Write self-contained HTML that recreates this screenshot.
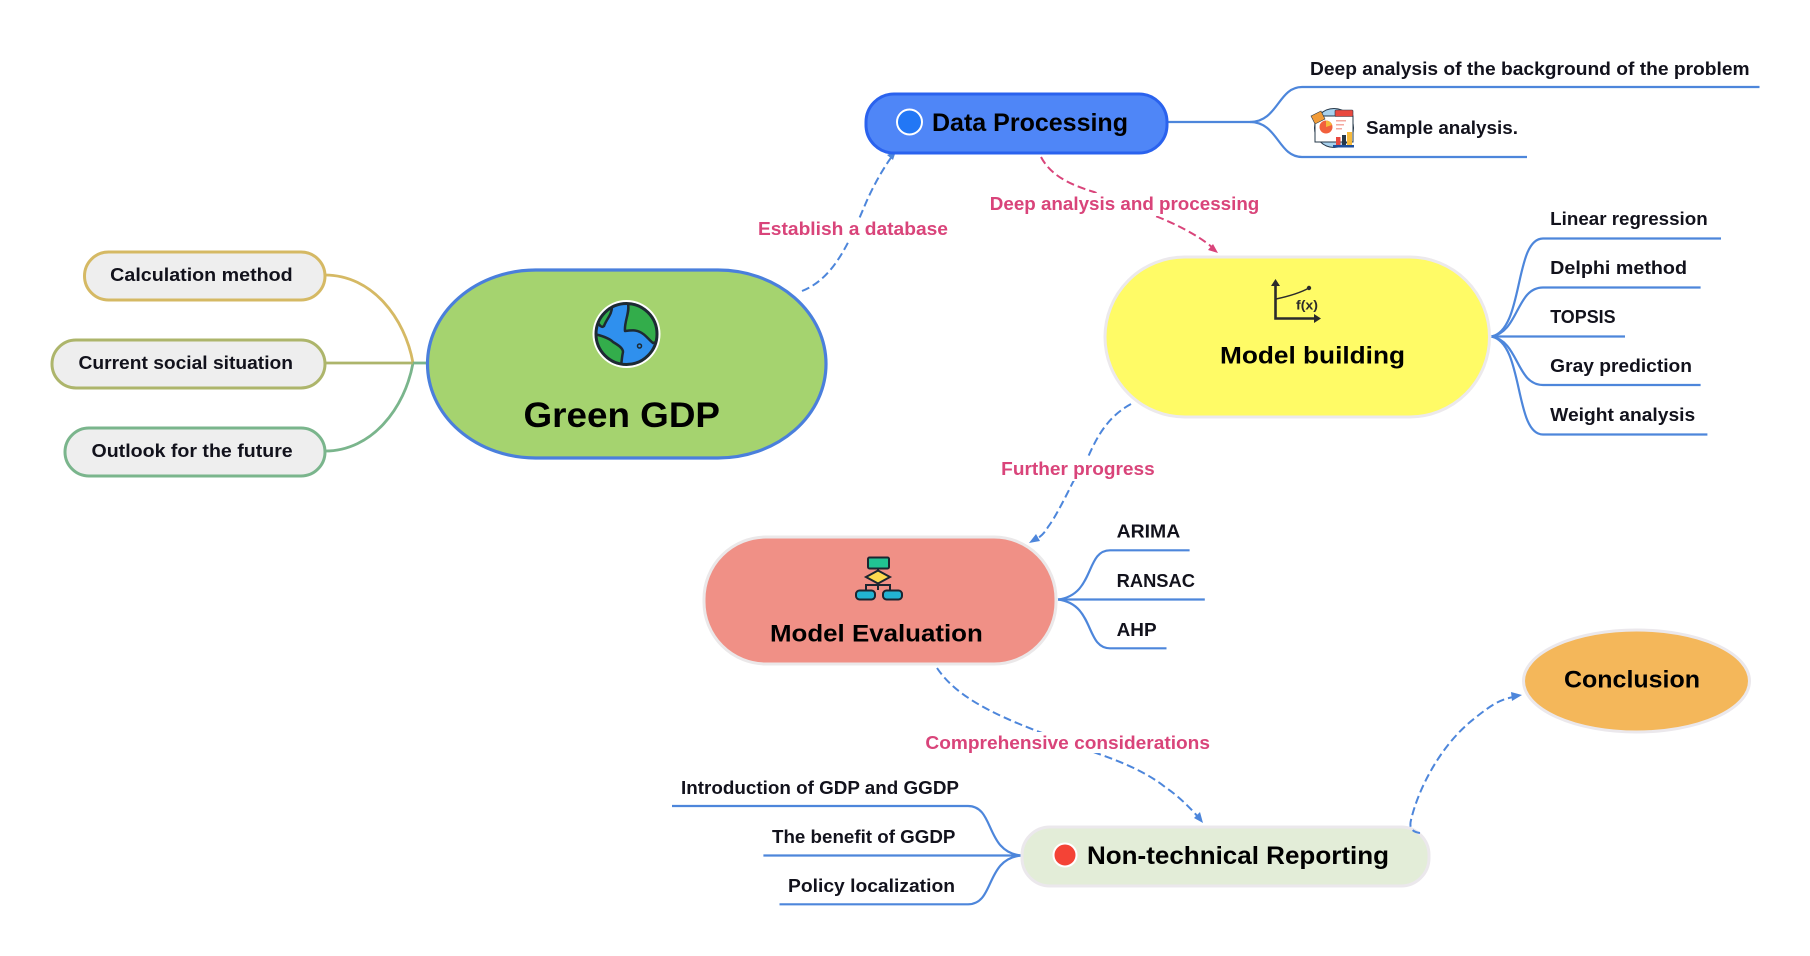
<!DOCTYPE html>
<html><head><meta charset="utf-8"><style>
html,body{margin:0;padding:0;background:#fff;width:1810px;height:956px;overflow:hidden}
svg{display:block}
text{font-family:"Liberation Sans",sans-serif;font-weight:bold;fill:#12121c;font-size:18.5px}
.p{fill:#d9447a}
.k{fill:#000}
.b{fill:none;stroke:#4d86db;stroke-width:2.2}
.d{fill:none;stroke:#4d86db;stroke-width:2;stroke-dasharray:8 4}
</style></head><body>
<svg width="1810" height="956" viewBox="0 0 1810 956" xmlns="http://www.w3.org/2000/svg">
<defs><clipPath id="g"><circle cx="626.5" cy="334" r="30"/></clipPath></defs>
<rect width="1810" height="956" fill="#fff"/>

<!-- left connectors -->
<path d="M325 275 C372 275 405 318 413 363" fill="none" stroke="#d5b964" stroke-width="2.8"/>
<path d="M325 451 C372 451 405 408 413 363" fill="none" stroke="#7ab58c" stroke-width="2.8"/>
<path d="M413 363 H428" fill="none" stroke="#7ab58c" stroke-width="2.8"/>
<path d="M325 363 H413" fill="none" stroke="#adb56b" stroke-width="2.8"/>

<!-- left nodes -->
<rect x="84.5" y="252" width="240.5" height="48" rx="24" fill="#eeeeee" stroke="#d5b964" stroke-width="3"/>
<rect x="52" y="340" width="273" height="48" rx="24" fill="#eeeeee" stroke="#adb56b" stroke-width="3"/>
<rect x="65" y="428" width="260" height="48" rx="24" fill="#eeeeee" stroke="#7ab58c" stroke-width="3"/>
<text x="110.2" y="281.2" textLength="182.5" lengthAdjust="spacingAndGlyphs">Calculation method</text>
<text x="78.5" y="369.2" textLength="214.5" lengthAdjust="spacingAndGlyphs">Current social situation</text>
<text x="91.5" y="457.2" textLength="201.2" lengthAdjust="spacingAndGlyphs">Outlook for the future</text>

<!-- Green GDP -->
<rect x="427.5" y="270" width="398.5" height="188" rx="108" ry="94" fill="#a5d36f" stroke="#4a7fdc" stroke-width="3.2"/>
<circle cx="626.5" cy="334" r="34" fill="#fff"/>
<circle cx="626.5" cy="334" r="30.5" fill="#2f90ee"/>
<g clip-path="url(#g)" stroke="#1d2a33" stroke-width="2.5" fill="#33ad4b" stroke-linejoin="round">
<path d="M628 304 C630 312 624 322 625 331 C632 330 636 330 640 332 C645 334 649 340 653 343 L665 340 L662 304Z"/>
<path d="M594 334 C603 336 610 339 613 342 C618 345 623 348 623 352 C622 356 622 359 621 366 L590 366Z"/>
<path d="M612 306 C612 315 607 318 604 326 C602 328 600 326 598 323 C600 314 605 309 612 306Z"/>
</g>
<circle cx="626.5" cy="334" r="30.5" fill="none" stroke="#1d2a33" stroke-width="3"/>
<circle cx="639.5" cy="346" r="2" fill="none" stroke="#1d2a33" stroke-width="1.5"/>
<text class="k" x="523.5" y="427" style="font-size:35px" textLength="196.5" lengthAdjust="spacingAndGlyphs">Green GDP</text>

<!-- Data Processing branches -->
<path class="b" d="M1168 122 H1250 C1278 122 1278 87 1302 87 H1759.5"/>
<path class="b" d="M1250 122 C1278 122 1278 157 1302 157 H1527"/>

<!-- Dashed edges -->
<path class="d" d="M802 291 C835 278 850 240 865 205 C873 186 884 167 893 155"/>
<polygon points="896,151 893,160 887,155" fill="#4d86db"/>

<path d="M1041 157 C1052 178 1075 186 1094 192 L1158 217 C1185 228 1205 240 1215 250" fill="none" stroke="#d9447a" stroke-width="2" stroke-dasharray="8 4"/>
<polygon points="1218,253 1208,250 1213,244" fill="#d9447a"/>

<path class="d" d="M1131 404 C1105 418 1095 442 1088 457 L1073 482 C1065 498 1055 518 1048 527 C1044 534 1040 537 1035 540"/>
<polygon points="1029,543 1036,534 1040,541" fill="#4d86db"/>

<path class="d" d="M937 668 C955 695 990 713 1037 731 L1099 754 C1130 765 1150 775 1165 787 C1180 797 1192 810 1199 818"/>
<polygon points="1203,823 1194,818 1200,812" fill="#4d86db"/>

<!-- Data Processing node -->
<rect x="866" y="94" width="301" height="59" rx="28" fill="#4f86f7" stroke="#2a62ee" stroke-width="3"/>
<circle cx="909.5" cy="122" r="12.5" fill="#2277f5" stroke="#fff" stroke-width="2"/>
<text class="k" x="932" y="130.8" style="font-size:25px" textLength="196" lengthAdjust="spacingAndGlyphs">Data Processing</text>

<text x="1310" y="75" textLength="439.6" lengthAdjust="spacingAndGlyphs">Deep analysis of the background of the problem</text>
<text x="1366" y="134" textLength="152" lengthAdjust="spacingAndGlyphs">Sample analysis.</text>

<!-- Sample icon -->
<circle cx="1334" cy="128" r="19.5" fill="#a9d2ee" stroke="#26384a" stroke-width="1"/>
<rect x="1315" y="116" width="38" height="26" fill="#fff" stroke="#26384a" stroke-width="1"/>
<circle cx="1326" cy="127" r="6.5" fill="#f2603c"/>
<path d="M1326 127 V120.5 A6.5 6.5 0 0 1 1332 125Z" fill="#f6b93b"/>
<rect x="1336" y="120" width="10" height="1.5" fill="#f4a9a0"/><rect x="1336" y="124" width="8" height="1.5" fill="#f4a9a0"/><rect x="1336" y="128" width="6" height="1.5" fill="#f4a9a0"/>
<rect x="1335" y="110" width="18" height="6.5" rx="1" fill="#e8483f" stroke="#26384a" stroke-width=".6"/>
<polygon points="1311,116 1321,111 1325,119 1315,124" fill="#f19b38" stroke="#26384a" stroke-width=".6"/>
<rect x="1336" y="137" width="4.5" height="8" fill="#e8483f"/><rect x="1347" y="132" width="5" height="13" fill="#f6b93b"/><rect x="1342" y="135" width="4" height="10" fill="#26384a"/>
<rect x="1333" y="145" width="21" height="2.5" fill="#1e4f9c"/>

<!-- Model building -->
<rect x="1105" y="257" width="384.5" height="160" rx="80" fill="#fffb66" stroke="#ece9ec" stroke-width="3"/>
<path d="M1275.5 284 V318.5 H1316" fill="none" stroke="#2b2b2b" stroke-width="2.6"/>
<polygon points="1275.5,279 1280,286 1271,286" fill="#2b2b2b"/>
<polygon points="1321,318.5 1314,314 1314,323" fill="#2b2b2b"/>
<path d="M1276 299 C1290 296 1300 293 1309 288" fill="none" stroke="#2b2b2b" stroke-width="1.5"/>
<circle cx="1309" cy="288" r="2.2" fill="#2b2b2b"/>
<text x="1296" y="309.5" style="font-size:13px;fill:#2b2b2b" textLength="22" lengthAdjust="spacingAndGlyphs">f(x)</text>
<text class="k" x="1220" y="363.5" style="font-size:24px" textLength="185" lengthAdjust="spacingAndGlyphs">Model building</text>

<path class="b" d="M1491.5 336.5 C1524 330 1514 238.5 1543 238.5 H1721"/>
<path class="b" d="M1491.5 336.5 C1519 332 1516 287.5 1543 287.5 H1700.6"/>
<path class="b" d="M1491.5 336.5 H1625"/>
<path class="b" d="M1491.5 336.5 C1519 341 1516 385 1543 385 H1700.6"/>
<path class="b" d="M1491.5 336.5 C1524 343 1514 434.5 1543 434.5 H1707.4"/>
<text x="1550.2" y="225" textLength="157.5" lengthAdjust="spacingAndGlyphs">Linear regression</text>
<text x="1550.2" y="274" textLength="136.8" lengthAdjust="spacingAndGlyphs">Delphi method</text>
<text x="1550.2" y="323" textLength="65.4" lengthAdjust="spacingAndGlyphs">TOPSIS</text>
<text x="1550.2" y="372" textLength="141.8" lengthAdjust="spacingAndGlyphs">Gray prediction</text>
<text x="1550.2" y="421" textLength="145" lengthAdjust="spacingAndGlyphs">Weight analysis</text>

<!-- Model Evaluation -->
<rect x="704" y="537" width="352" height="127" rx="62" fill="#f09086" stroke="#ebe8e9" stroke-width="3"/>
<path d="M878 568 V590 M866 590 V585 H890 V590" fill="none" stroke="#1c2530" stroke-width="2"/>
<rect x="868" y="557.5" width="21" height="11" rx="1.5" fill="#21c293" stroke="#1c2530" stroke-width="2"/>
<polygon points="866,577 878,570.5 890,577 878,583.5" fill="#fdd94f" stroke="#1c2530" stroke-width="2"/>
<rect x="856" y="590.5" width="19" height="9" rx="3.5" fill="#22b3d2" stroke="#1c2530" stroke-width="2"/>
<rect x="883" y="590.5" width="19" height="9" rx="3.5" fill="#22b3d2" stroke="#1c2530" stroke-width="2"/>
<text class="k" x="770" y="641.5" style="font-size:24px" textLength="212.8" lengthAdjust="spacingAndGlyphs">Model Evaluation</text>

<path class="b" d="M1058 599.5 C1095 595 1085 550.3 1110 550.3 H1189.6"/>
<path class="b" d="M1058 599.5 H1204.8"/>
<path class="b" d="M1058 599.5 C1095 604 1085 648.3 1110 648.3 H1166.5"/>
<text x="1116.6" y="537.7" textLength="63.7" lengthAdjust="spacingAndGlyphs">ARIMA</text>
<text x="1116.6" y="587" textLength="78.4" lengthAdjust="spacingAndGlyphs">RANSAC</text>
<text x="1116.6" y="636" textLength="40" lengthAdjust="spacingAndGlyphs">AHP</text>

<!-- Non-technical -->
<path class="b" d="M1021 855.5 C985 852 995 806 968 806 H672"/>
<path class="b" d="M1021 855.5 H763.4"/>
<path class="b" d="M1021 855.5 C985 859 995 904.3 968 904.3 H779.5"/>
<rect x="1022" y="827" width="407" height="59" rx="28" fill="#e3edd8" stroke="#ebe8ec" stroke-width="3"/>
<circle cx="1065" cy="855" r="11.5" fill="#f44336" stroke="#fff" stroke-width="2"/>
<text class="k" x="1087" y="864" style="font-size:25px" textLength="302" lengthAdjust="spacingAndGlyphs">Non-technical Reporting</text>
<text x="681" y="794" textLength="278" lengthAdjust="spacingAndGlyphs">Introduction of GDP and GGDP</text>
<text x="772" y="843" textLength="183.4" lengthAdjust="spacingAndGlyphs">The benefit of GGDP</text>
<text x="788" y="892" textLength="167" lengthAdjust="spacingAndGlyphs">Policy localization</text>

<!-- Conclusion -->
<ellipse cx="1636.5" cy="681" rx="113" ry="51" fill="#f4b75a" stroke="#ebe8ec" stroke-width="3"/>
<text class="k" x="1564" y="687.7" style="font-size:24px" textLength="136" lengthAdjust="spacingAndGlyphs">Conclusion</text>

<!-- Edge to Conclusion drawn over the node so its hook is visible -->
<path class="d" d="M1420 833 C1412 832 1409 828 1411 820 C1418 790 1440 745 1475 718 C1490 706 1500 699 1514 697"/>
<polygon points="1522,695 1512,701 1511,692" fill="#4d86db"/>

<!-- Edge labels with white backing that interrupts the connectors -->
<rect x="840" y="218" width="40" height="22" fill="#fff"/>
<rect x="1080" y="193" width="90" height="23" fill="#fff"/>
<rect x="1060" y="458" width="40" height="23" fill="#fff"/>
<rect x="1030" y="732" width="75" height="21" fill="#fff"/>
<text class="p" x="758" y="235" textLength="190" lengthAdjust="spacingAndGlyphs">Establish a database</text>
<text class="p" x="989.8" y="210" textLength="269.5" lengthAdjust="spacingAndGlyphs">Deep analysis and processing</text>
<text class="p" x="1001.2" y="475" textLength="153.5" lengthAdjust="spacingAndGlyphs">Further progress</text>
<text class="p" x="925.4" y="749" textLength="284.6" lengthAdjust="spacingAndGlyphs">Comprehensive considerations</text>
</svg>
</body></html>
